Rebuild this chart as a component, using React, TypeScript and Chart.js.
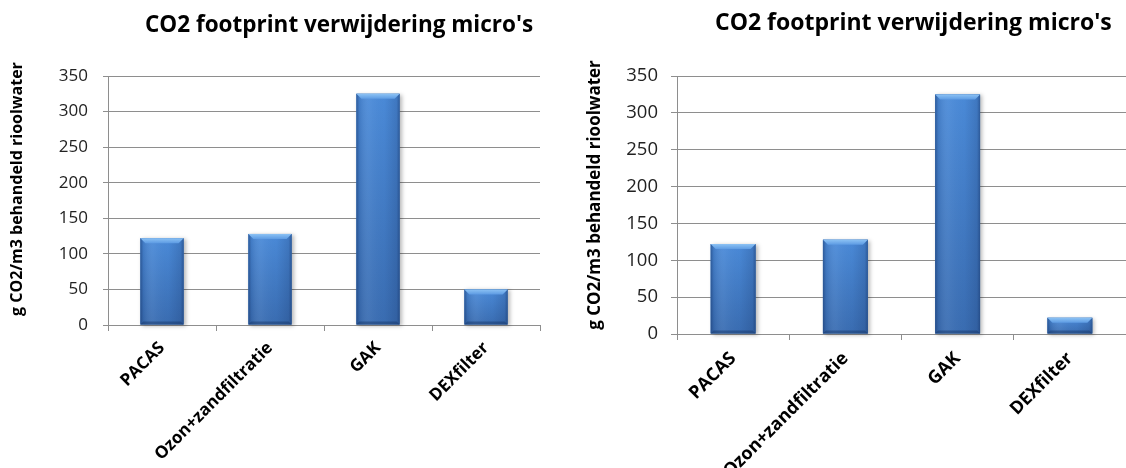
import React, { useEffect, useRef } from 'react';
import { Chart, registerables } from 'chart.js';

Chart.register(...registerables);

// Treatment techniques on the category axis
const categories = ['PACAS', 'Ozon+zandfiltratie', 'GAK', 'DEXfilter'];
// CO2 footprint per technique (g CO2 per m3 treated sewage water)
const footprintA = [122, 128, 325, 50];
const footprintB = [122, 128, 325, 22];
// Value axis ticks
const yTicks = [0, 50, 100, 150, 200, 250, 300, 350];

const chartTitle = "CO2 footprint verwijdering micro's";
const yAxisTitle = 'g CO2/m3 behandeld rioolwater';

const FONT = "'Open Sans', 'DejaVu Sans', sans-serif";
const GRID = '#8e8e8e';

type Panel = {
  data: number[];
  left: number;
  width: number;
  height: number;
  yWidth: number;
  xHeight: number;
  padTop: number;
  padRight: number;
  titleX: number;
  titleY: number;
  titleSize: number;
  yTitleX: number;
  yTitleY: number;
  yTitleSize: number;
  tickSize: number;
  tickLen: number;
  tickPad: number;
  xLabelSize: number;
  xLabelPad: number;
};

const panels: Panel[] = [
  {
    data: footprintA,
    left: 0, width: 560, height: 468,
    yWidth: 108, xHeight: 143, padTop: 76, padRight: 20,
    titleX: 145, titleY: 32, titleSize: 22.5,
    yTitleX: 17, yTitleY: 189, yTitleSize: 16,
    tickSize: 17, tickLen: 5, tickPad: 15,
    xLabelSize: 17, xLabelPad: 7,
  },
  {
    data: footprintB,
    left: 570, width: 556, height: 468,
    yWidth: 107, xHeight: 134, padTop: 76, padRight: 0,
    titleX: 145, titleY: 30, titleSize: 23,
    yTitleX: 25, yTitleY: 195, yTitleSize: 17,
    tickSize: 18.5, tickLen: 6, tickPad: 13,
    xLabelSize: 18, xLabelPad: 8,
  },
];

// Draws the chart title and the rotated value-axis title
const textPlugin = {
  id: 'panelText',
  afterDraw(chart: any, _args: any, opts: any) {
    const ctx = chart.ctx as CanvasRenderingContext2D;
    ctx.save();
    ctx.fillStyle = '#000';
    ctx.font = `bold ${opts.titleSize}px ${FONT}`;
    ctx.textAlign = 'left';
    ctx.textBaseline = 'alphabetic';
    ctx.fillText(chartTitle, opts.titleX, opts.titleY);

    ctx.translate(opts.yTitleX, opts.yTitleY);
    ctx.rotate(-Math.PI / 2);
    ctx.font = `bold ${opts.yTitleSize}px ${FONT}`;
    ctx.textAlign = 'center';
    ctx.textBaseline = 'middle';
    ctx.fillText(yAxisTitle, 0, 0);
    ctx.restore();
  },
};

// Gives each bar a glossy, bevelled cylinder look
const bevelPlugin = {
  id: 'bevelBars',
  afterDatasetsDraw(chart: any) {
    const ctx = chart.ctx as CanvasRenderingContext2D;
    const meta = chart.getDatasetMeta(0);
    meta.data.forEach((el: any) => {
      const { x, y, base, width } = el.getProps(['x', 'y', 'base', 'width'], true);
      const l = x - width / 2;
      const r = x + width / 2;
      const t = Math.min(y, base);
      const b = Math.max(y, base);
      const h = b - t;
      if (h <= 0) return;
      ctx.save();

      // body with a soft drop shadow
      const vg = ctx.createLinearGradient(0, t, 0, b);
      vg.addColorStop(0, '#4b8bd9');
      vg.addColorStop(1, '#3a6db2');
      ctx.shadowColor = 'rgba(0,0,0,0.28)';
      ctx.shadowBlur = 4;
      ctx.shadowOffsetX = 2;
      ctx.shadowOffsetY = 1;
      ctx.fillStyle = vg;
      ctx.fillRect(l, t, width, h);
      ctx.shadowColor = 'transparent';

      // horizontal shading, darker at both edges
      const hg = ctx.createLinearGradient(l, 0, r, 0);
      hg.addColorStop(0, 'rgba(18,45,95,0.5)');
      hg.addColorStop(0.07, 'rgba(18,45,95,0.15)');
      hg.addColorStop(0.3, 'rgba(255,255,255,0.05)');
      hg.addColorStop(0.65, 'rgba(18,45,95,0.02)');
      hg.addColorStop(0.93, 'rgba(18,45,95,0.2)');
      hg.addColorStop(1, 'rgba(18,45,95,0.5)');
      ctx.fillStyle = hg;
      ctx.fillRect(l, t, width, h);

      // top bevel
      const bv = Math.min(5, h / 2);
      const tg = ctx.createLinearGradient(0, t, 0, t + bv);
      tg.addColorStop(0, '#8cc2f4');
      tg.addColorStop(1, '#5d9be3');
      ctx.fillStyle = tg;
      ctx.beginPath();
      ctx.moveTo(l, t);
      ctx.lineTo(r, t);
      ctx.lineTo(r - bv, t + bv);
      ctx.lineTo(l + bv, t + bv);
      ctx.closePath();
      ctx.fill();

      // bottom bevel
      const bb = Math.min(3, h / 3);
      ctx.fillStyle = 'rgba(20,50,100,0.45)';
      ctx.beginPath();
      ctx.moveTo(l, b);
      ctx.lineTo(r, b);
      ctx.lineTo(r - bb, b - bb);
      ctx.lineTo(l + bb, b - bb);
      ctx.closePath();
      ctx.fill();

      ctx.restore();
    });
  },
};

function BarPanel({ p }: { p: Panel }) {
  const ref = useRef<HTMLCanvasElement | null>(null);

  useEffect(() => {
    if (!ref.current) return;
    const chart = new Chart(ref.current, {
      type: 'bar',
      data: {
        labels: categories,
        datasets: [
          {
            data: p.data,
            backgroundColor: '#4280cc',
            borderWidth: 0,
            categoryPercentage: 1,
            barPercentage: 0.4,
          },
        ],
      },
      options: {
        responsive: false,
        animation: false,
        devicePixelRatio: 1,
        layout: { padding: { top: p.padTop, right: p.padRight, left: 0, bottom: 0 } },
        plugins: {
          legend: { display: false },
          tooltip: { enabled: false },
          title: { display: false },
          panelText: {
            titleX: p.titleX, titleY: p.titleY, titleSize: p.titleSize,
            yTitleX: p.yTitleX, yTitleY: p.yTitleY, yTitleSize: p.yTitleSize,
          },
        } as any,
        scales: {
          x: {
            offset: true,
            grid: {
              display: true,
              offset: true,
              drawOnChartArea: false,
              drawTicks: true,
              tickLength: 6,
              color: GRID,
            },
            border: { display: true, color: GRID },
            ticks: {
              autoSkip: false,
              minRotation: 45,
              maxRotation: 45,
              padding: p.xLabelPad,
              color: '#000',
              font: { family: FONT, size: p.xLabelSize, weight: 'bold' },
            },
            afterFit: (s: any) => {
              s.height = p.xHeight;
            },
          },
          y: {
            min: 0,
            max: 350,
            afterBuildTicks: (s: any) => {
              s.ticks = yTicks.map((v) => ({ value: v }));
            },
            grid: {
              color: GRID,
              drawTicks: true,
              tickLength: p.tickLen,
            },
            border: { display: true, color: GRID },
            ticks: {
              padding: p.tickPad,
              color: '#222',
              font: { family: FONT, size: p.tickSize },
            },
            afterFit: (s: any) => {
              s.width = p.yWidth;
            },
          },
        },
      },
      plugins: [bevelPlugin, textPlugin],
    });
    return () => chart.destroy();
  }, [p]);

  return (
    <canvas
      ref={ref}
      width={p.width}
      height={p.height}
      style={{ position: 'absolute', left: p.left, top: 0, width: p.width, height: p.height }}
    />
  );
}

export default function App() {
  return (
    <div style={{ position: 'absolute', left: 0, top: 0, width: 1126, height: 468, background: '#fff' }}>
      {panels.map((p, i) => (
        <BarPanel key={i} p={p} />
      ))}
    </div>
  );
}
